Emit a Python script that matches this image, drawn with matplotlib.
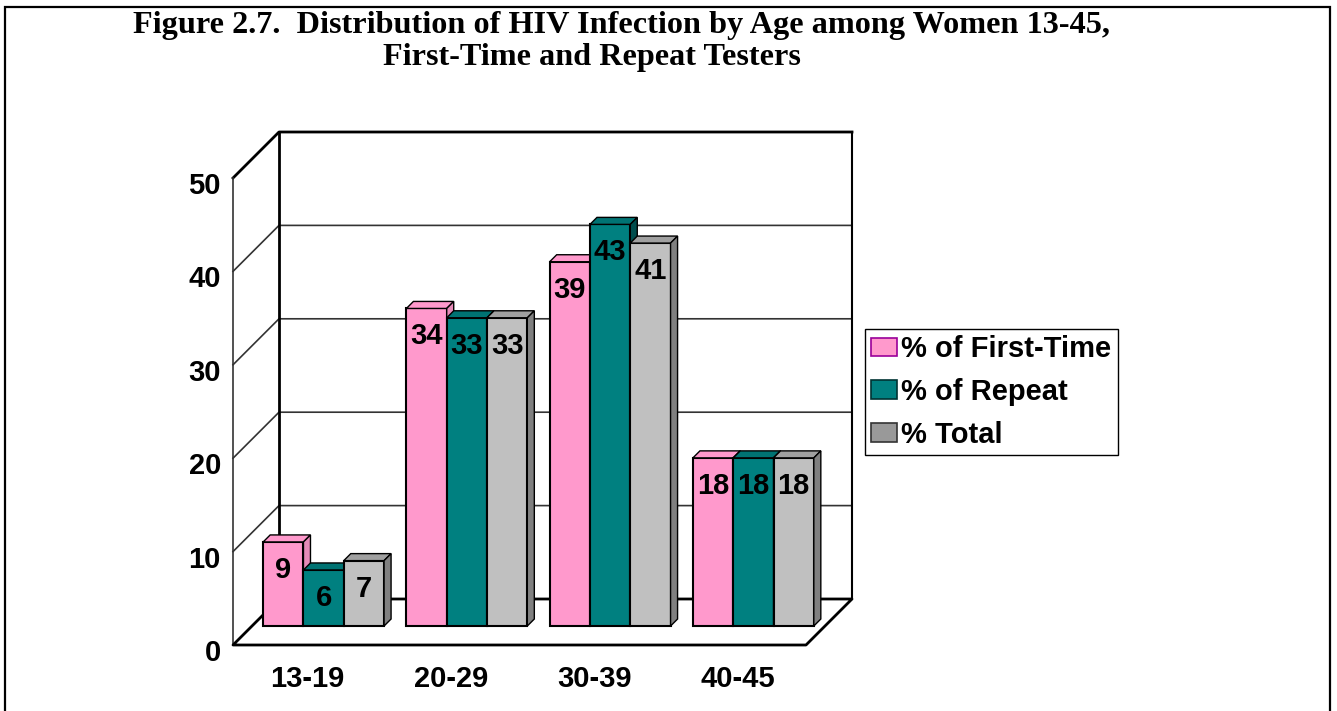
import matplotlib
matplotlib.use('Agg')
import matplotlib.pyplot as plt
from matplotlib.patches import Patch, Rectangle

plt.rcParams['font.family'] = ['Liberation Sans', 'DejaVu Sans']
plt.rcParams['font.weight'] = 'bold'

# data
categories = ['13-19', '20-29', '30-39', '40-45']
series_names = ['% of First-Time', '% of Repeat', '% Total']
first_time = [9, 34, 39, 18]
repeat = [6, 33, 43, 18]
total = [7, 33, 41, 18]
y_ticks = [0, 10, 20, 30, 40, 50]

series = [first_time, repeat, total]
front_colors = ['#FF99CC', '#008080', '#C0C0C0']
top_colors = ['#FF99CC', '#007373', '#A0A0A0']
side_colors = ['#E68AB8', '#004D4D', '#808080']
legend_faces = ['#FF99CC', '#008080', '#999999']
legend_edges = ['#990099', '#003333', '#333333']

W, H = 1337, 711
fig = plt.figure(figsize=(W / 100, H / 100), dpi=100)

# outer frame (bottom edge is cut off in the original)
fig.patches.append(Rectangle((5 / W, -0.01), (1330 - 5) / W, 1.01 - 7 / H,
                             transform=fig.transFigure, fill=False,
                             edgecolor='black', linewidth=1.6))

# axes covers the front plane of the 3d box
ax = fig.add_axes([233 / W, (H - 645) / H, (806 - 233) / W, (645 - 178) / H])
ax.set_xlim(0, len(categories))
ax.set_ylim(0, 50)
ax.axis('off')

p0 = ax.transData.transform((0, 0))
p1 = ax.transData.transform((1, 1))
sx, sy = p1[0] - p0[0], p1[1] - p0[1]   # pixels per data unit

ncat = len(categories)
wx, wy = 46 / sx, 46 / sy      # depth of the box
bx, by = 19 / sx, 19 / sy      # plane where the bars stand
dx, dy = 7 / sx, 7 / sy        # depth of a bar
bw = 40.3 / sx                  # bar width
gap = 1 - 3 * bw

grid_kw = dict(color='#333333', linewidth=1.2, zorder=1, clip_on=False)
edge_kw = dict(color='black', linewidth=2, zorder=1, clip_on=False)

for v in y_ticks[1:-1]:
    ax.plot([0, wx, ncat + wx], [v, v + wy, v + wy], **grid_kw)
top = y_ticks[-1]
ax.plot([0, wx, ncat + wx], [top, top + wy, top + wy], **edge_kw)
ax.plot([wx, wx], [wy, top + wy], **edge_kw)
ax.plot([ncat + wx, ncat + wx], [wy, top + wy], color='black', linewidth=1.5,
        zorder=1, clip_on=False)
ax.plot([0, 0], [0, top], **grid_kw)
# floor
ax.plot([wx, 0, ncat, ncat + wx, wx], [wy, 0, 0, wy, wy], **edge_kw)

# bars
for c in range(ncat):
    for i, vals in enumerate(series):
        h = vals[c]
        x0 = c + gap / 2 + i * bw + bx
        x1 = x0 + bw
        y0, y1 = by, by + h
        ax.bar(x0, h, width=bw, bottom=y0, align='edge', color=front_colors[i],
               edgecolor='black', linewidth=1.5, zorder=3, clip_on=False)
        ax.fill([x0, x1, x1 + dx, x0 + dx], [y1, y1, y1 + dy, y1 + dy],
                facecolor=top_colors[i], edgecolor='black', linewidth=1.0,
                zorder=3, clip_on=False)
        ax.fill([x1, x1 + dx, x1 + dx, x1], [y0, y0 + dy, y1 + dy, y1],
                facecolor=side_colors[i], edgecolor='black', linewidth=1.0,
                zorder=3, clip_on=False)
        ax.text((x0 + x1) / 2, y1 - 28 / sy, str(h), ha='center', va='center',
                fontsize=21, fontweight='bold', zorder=4)

# value axis labels
for v in y_ticks:
    ax.text(-12 / sx, v - 8 / sy, str(v), ha='right', va='center',
            fontsize=21, fontweight='bold')

# category labels
for c, name in enumerate(categories):
    ax.text(c + 0.5 + 3 / sx, -34 / sy, name, ha='center', va='center',
            fontsize=21, fontweight='bold')

# legend
handles = [Patch(facecolor=legend_faces[i], edgecolor=legend_edges[i],
                 linewidth=1.2, label=series_names[i]) for i in range(3)]
leg = fig.legend(handles=handles, loc='upper left',
                 bbox_to_anchor=(865 / W, 1 - 329 / H), fontsize=21,
                 frameon=True, fancybox=False, shadow=False, framealpha=1,
                 edgecolor='black', handlelength=0.86, handleheight=0.6,
                 handletextpad=0.17, labelspacing=0.5, borderpad=0.22,
                 borderaxespad=0)
leg.get_frame().set_linewidth(1.0)

# title
title_kw = dict(fontsize=23.2, fontweight='bold', ha='left', va='center',
                family=['Liberation Serif', 'DejaVu Serif'])
fig.text(133 / W, 1 - 25 / H,
         'Figure 2.7.  Distribution of HIV Infection by Age among Women 13-45,',
         **title_kw)
fig.text(383 / W, 1 - 57 / H, 'First-Time and Repeat Testers', **title_kw)

fig.savefig('out.png', dpi=100)
